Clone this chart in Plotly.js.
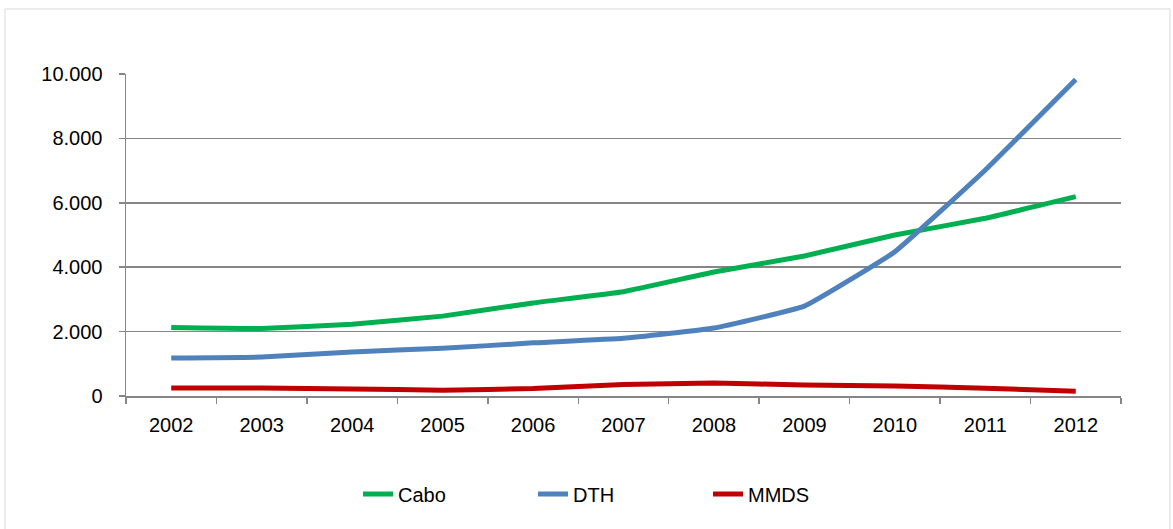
<!DOCTYPE html>
<html>
<head>
<meta charset="utf-8">
<script src="https://cdn.plot.ly/plotly-3.0.1.min.js"></script>
<style>html,body{margin:0;padding:0;background:#fff;}#chart{width:1173px;height:529px;}</style>
</head>
<body>
<div id="chart"></div>
<script>
const years = ["2002","2003","2004","2005","2006","2007","2008","2009","2010","2011","2012"];
const cabo = [2130, 2100, 2230, 2480, 2890, 3240, 3850, 4350, 5000, 5520, 6190];
const dth  = [1180, 1210, 1370, 1480, 1650, 1790, 2110, 2790, 4480, 7020, 9830];
const mmds = [250, 250, 220, 180, 230, 360, 400, 340, 310, 240, 150];
const yTicks = [0, 2000, 4000, 6000, 8000, 10000];
const yTickText = ["0", "2.000", "4.000", "6.000", "8.000", "10.000"];

const mk = (name, y, color) => ({
  x: years, y: y, name: name, type: 'scatter', mode: 'lines',
  line: {color: color, width: 5, shape: 'spline', smoothing: 0.3}
});

const data = [
  mk('Cabo', cabo, '#00B050'),
  mk('DTH', dth, '#4F81BD'),
  mk('MMDS', mmds, '#C00000')
];

const layout = {
  width: 1173, height: 529,
  margin: {l: 126, r: 52, t: 74, b: 133},
  paper_bgcolor: '#ffffff', plot_bgcolor: '#ffffff',
  font: {family: 'Liberation Sans, Arial, sans-serif', size: 20, color: '#000'},
  showlegend: true,
  legend: {orientation: 'h', x: 0.497, xanchor: 'center', y: -0.304, yanchor: 'middle',
           font: {size: 20}, entrywidth: 130, entrywidthmode: 'pixels', itemwidth: 30},
  xaxis: {type: 'category', range: [-0.5, 10.5], showgrid: false, showline: true,
          linecolor: '#868686', linewidth: 1.5, ticks: 'outside', tickson: 'boundaries',
          ticklen: 6, tickcolor: '#868686', tickwidth: 1.5, ticklabelstandoff: 10, fixedrange: true},
  yaxis: {range: [0, 10000], tickvals: yTicks, ticktext: yTickText, showgrid: true,
          gridcolor: '#868686', gridwidth: 1.5, showline: true, linecolor: '#868686',
          linewidth: 1.5, ticks: 'outside', ticklen: 6, tickcolor: '#868686', tickwidth: 1.5,
          ticklabelstandoff: 12, zeroline: false, fixedrange: true},
  shapes: [{type: 'rect', xref: 'paper', yref: 'paper', x0: -0.1216, x1: 1.0492,
            y0: -0.5, y1: 1.2019, line: {color: '#d9d9d9', width: 1}, fillcolor: 'rgba(0,0,0,0)', layer: 'below'}]
};

Plotly.newPlot('chart', data, layout, {displayModeBar: false, staticPlot: true});
</script>
</body>
</html>
